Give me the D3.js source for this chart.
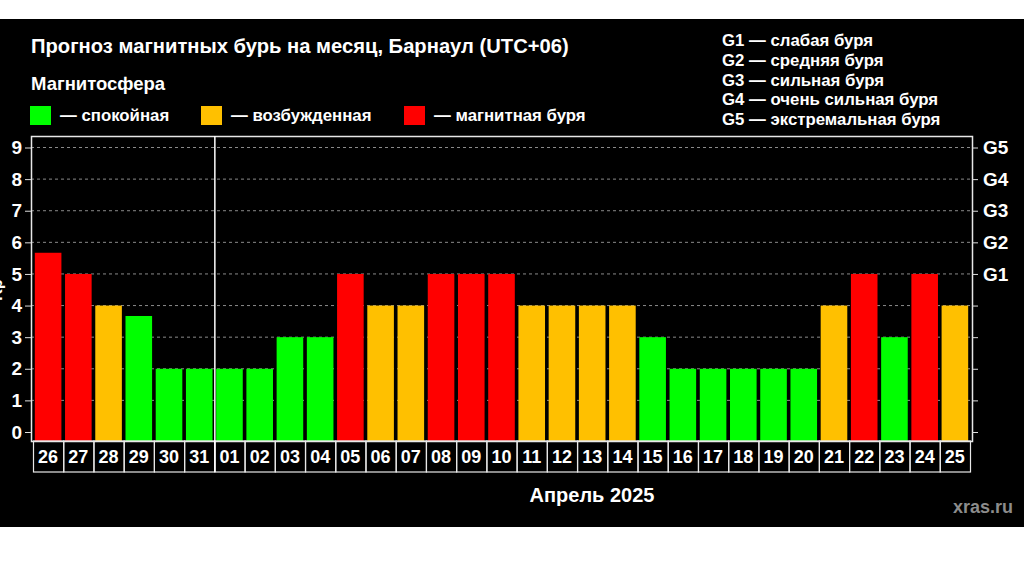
<!DOCTYPE html>
<html>
<head>
<meta charset="utf-8">
<script src="https://cdn.jsdelivr.net/npm/d3@7"></script>
<style>
  body { margin: 0; background: #fff; }
  svg text { font-family: "Liberation Sans", Arial, sans-serif; font-weight: bold; }
</style>
</head>
<body>
<script>
// days shown, Mar 26 .. Apr 25
var days = ["26","27","28","29","30","31","01","02","03","04","05","06","07","08","09","10",
            "11","12","13","14","15","16","17","18","19","20","21","22","23","24","25"];
var kpValues = [5.67, 5, 4, 3.67, 2, 2, 2, 2, 3, 3, 5, 4, 4, 5, 5, 5,
                4, 4, 4, 4, 3, 2, 2, 2, 2, 2, 4, 5, 3, 5, 4];
var yTicks = [0, 1, 2, 3, 4, 5, 6, 7, 8, 9];
var gLabels = ["G1", "G2", "G3", "G4", "G5"];   // at kp 5..9
var stateNames = ["— спокойная", "— возбужденная", "— магнитная буря"];
var stateColors = ["#00ff00", "#ffc000", "#ff0000"];
var gNames = ["G1 — слабая буря", "G2 — средняя буря", "G3 — сильная буря",
              "G4 — очень сильная буря", "G5 — экстремальная буря"];

function colorFor(v) {
    if (v >= 5) return stateColors[2];
    if (v >= 4) return stateColors[1];
    return stateColors[0];
}

var width = 1024, height = 576;
var plotLeft = 31, plotRight = 972, plotTop = 136, plotBottom = 441;

var svg = d3.select("body").append("svg")
    .attr("width", width)
    .attr("height", height);

svg.append("rect")
    .attr("x", 0).attr("y", 19)
    .attr("width", width).attr("height", 508)
    .attr("fill", "#000");

var x = d3.scaleBand()
    .domain(days)
    .range([33, 970])
    .paddingInner(0.12)
    .paddingOuter(0.06);

var y = d3.scaleLinear()
    .domain([0, 9])
    .range([432, 147.5]);

// grid
svg.append("g").selectAll("line")
    .data(yTicks.filter(function(d) { return d > 0; }))
    .enter().append("line")
    .attr("x1", plotLeft).attr("x2", plotRight)
    .attr("y1", function(d) { return y(d); })
    .attr("y2", function(d) { return y(d); })
    .attr("stroke", "#8a8a8a")
    .attr("stroke-dasharray", "3,3")
    .attr("stroke-width", 1);

// bars
svg.append("g").selectAll("rect")
    .data(days)
    .enter().append("rect")
    .attr("x", function(d) { return x(d); })
    .attr("width", x.bandwidth())
    .attr("y", function(d, i) { return y(kpValues[i]); })
    .attr("height", function(d, i) { return plotBottom - y(kpValues[i]); })
    .attr("fill", function(d, i) { return colorFor(kpValues[i]); });

// frame
svg.append("rect")
    .attr("x", plotLeft + 0.5).attr("y", plotTop + 0.5)
    .attr("width", plotRight - plotLeft).attr("height", plotBottom - plotTop)
    .attr("fill", "none")
    .attr("stroke", "#e8e8e8")
    .attr("stroke-width", 1.5);

// left axis
var yAxisL = svg.append("g")
    .attr("transform", "translate(" + plotLeft + ",0)")
    .call(d3.axisLeft(y).tickValues(yTicks).tickSize(6).tickPadding(3).tickFormat(d3.format("d")));
yAxisL.select(".domain").remove();
yAxisL.selectAll("line").attr("stroke", "#ddd");
yAxisL.selectAll("text").attr("fill", "#fff").style("font-size", "19px")
    .style("font-family", "'Liberation Sans', Arial, sans-serif").style("font-weight", "bold");

// right axis
var yAxisR = svg.append("g")
    .attr("transform", "translate(" + plotRight + ",0)")
    .call(d3.axisRight(y).tickValues(yTicks).tickSize(6).tickPadding(5)
        .tickFormat(function(d) { return d >= 5 ? gLabels[d - 5] : ""; }));
yAxisR.select(".domain").remove();
yAxisR.selectAll("line").attr("stroke", "#ddd");
yAxisR.selectAll("text").attr("fill", "#fff").style("font-size", "19px")
    .style("font-family", "'Liberation Sans', Arial, sans-serif").style("font-weight", "bold");

// day cells
var step = x.step();
var x0 = x.range()[0];
var cells = svg.append("g");
cells.selectAll("rect")
    .data(days)
    .enter().append("rect")
    .attr("x", function(d, i) { return x0 + i * step + 0.5; })
    .attr("y", plotBottom)
    .attr("width", step)
    .attr("height", 31)
    .attr("fill", "none")
    .attr("stroke", "#e8e8e8")
    .attr("stroke-width", 1.2);
cells.selectAll("text")
    .data(days)
    .enter().append("text")
    .attr("x", function(d) { return x(d) + x.bandwidth() / 2; })
    .attr("y", 463)
    .attr("text-anchor", "middle")
    .attr("fill", "#fff")
    .style("font-size", "18px")
    .text(function(d) { return d; });

// month divider
var divX = x0 + days.indexOf("01") * step + 0.5;
svg.append("line")
    .attr("x1", divX).attr("x2", divX)
    .attr("y1", plotTop).attr("y2", plotBottom + 31)
    .attr("stroke", "#fff").attr("stroke-width", 1.5);

// titles
svg.append("text").attr("x", 31).attr("y", 53).attr("fill", "#fff")
    .style("font-size", "20.2px")
    .text("Прогноз магнитных бурь на месяц, Барнаул (UTC+06)");
svg.append("text").attr("x", 31).attr("y", 90).attr("fill", "#fff")
    .style("font-size", "18.5px")
    .text("Магнитосфера");

// state legend
var legX = [30, 201, 404];
var leg = svg.append("g").selectAll("g")
    .data(stateNames)
    .enter().append("g")
    .attr("transform", function(d, i) { return "translate(" + legX[i] + ",106)"; });
leg.append("rect").attr("width", 21).attr("height", 19)
    .attr("fill", function(d, i) { return stateColors[i]; });
leg.append("text").attr("x", 30).attr("y", 15).attr("fill", "#fff")
    .style("font-size", "16.8px")
    .text(function(d) { return d; });

// G legend
svg.append("g").selectAll("text")
    .data(gNames)
    .enter().append("text")
    .attr("x", 722)
    .attr("y", function(d, i) { return 46 + i * 19.8; })
    .attr("fill", "#fff")
    .style("font-size", "16.8px")
    .text(function(d) { return d; });

svg.append("text").attr("x", 592).attr("y", 502).attr("text-anchor", "middle")
    .attr("fill", "#fff").style("font-size", "20px")
    .text("Апрель 2025");

svg.append("text").attr("x", 1013).attr("y", 513).attr("text-anchor", "end")
    .attr("fill", "#8c8c8c").style("font-size", "18px")
    .text("xras.ru");

// axis title, almost entirely off the left edge as in the source
svg.append("text")
    .attr("transform", "translate(2,290) rotate(-90)")
    .attr("text-anchor", "middle")
    .attr("fill", "#fff").style("font-size", "16px")
    .text("Kp");
</script>
</body>
</html>
